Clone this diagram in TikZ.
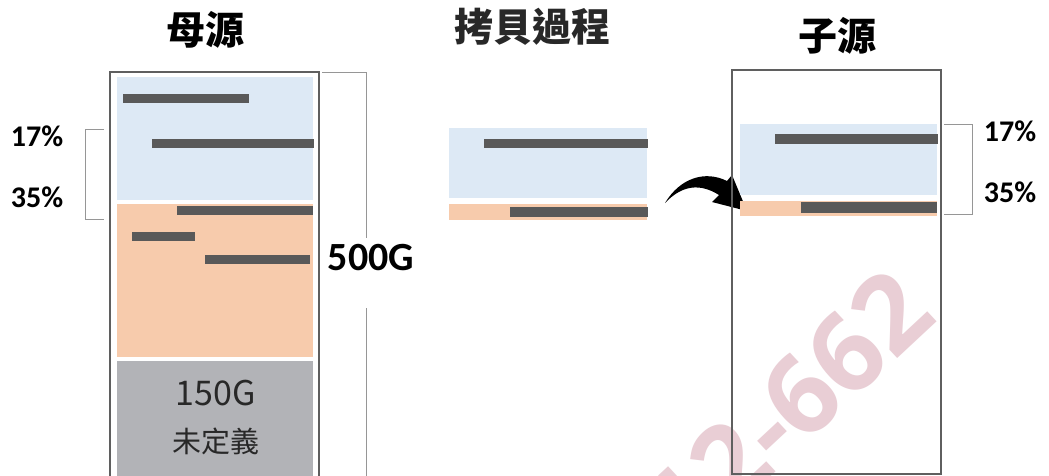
\documentclass[tikz,border=0pt]{standalone}
\usepackage{fontspec}
\setmainfont{Carlito}
\newfontfamily\cjk{Noto Sans CJK TC}
\newfontfamily\wmfont{Open Sans}
\definecolor{lblue}{RGB}{221,233,245}
\definecolor{lorange}{RGB}{247,203,172}
\definecolor{lgray}{RGB}{178,179,183}
\definecolor{barc}{RGB}{89,89,89}
\definecolor{wmc}{RGB}{233,206,213}
\definecolor{framec}{RGB}{95,95,95}
\definecolor{brk}{RGB}{150,150,150}
\definecolor{txtgray}{RGB}{40,40,40}
\begin{document}
\begin{tikzpicture}[x=1pt,y=-1pt,
  barbox/.style={fill=barc},
  frameline/.style={draw=framec,line width=1.2pt},
  bracketline/.style={draw=brk,line width=1pt},
  title/.style={font=\cjk\bfseries\fontsize{39}{43}\selectfont,inner sep=0pt},
  pct/.style={font=\bfseries\fontsize{30}{33}\selectfont,inner sep=0pt}]
\useasboundingbox (0,0) rectangle (1049,475);
\fill[white] (0,0) rectangle (1049,475);
% watermark
\begin{scope}
\clip (0,0) rectangle (1049,475);
\node[rotate=43,text=wmc,font=\wmfont\bfseries\fontsize{108}{112}\selectfont,inner sep=0pt] (wm) at (788,408) {12-662};
\end{scope}
% titles
\node[title] (t1) at (205,30) {母源};
\node[title,text=txtgray] (t2) at (532,27) {拷貝過程};
\node[title] (t3) at (837,36) {子源};
% left column
\fill[lblue] (117,77) rectangle (313,200);
\fill[lorange] (117,204) rectangle (313,357);
\fill[lgray] (117,361) rectangle (313,476);
\fill[barbox] (123,94) rectangle (249,103);
\fill[barbox] (152,139) rectangle (314,148);
\fill[barbox] (177,206) rectangle (313,215);
\fill[barbox] (132,232) rectangle (195,241);
\fill[barbox] (205,255) rectangle (310,264);
\draw[frameline] (110,477) -- (110,72) -- (319,72) -- (319,477);
\node[font=\cjk\fontsize{34}{38}\selectfont,text=txtgray,inner sep=0pt] (g150) at (216,393) {150G};
\node[font=\cjk\fontsize{29}{32}\selectfont,text=txtgray,inner sep=0pt] (undef) at (216,441) {未定義};
% 500G bracket
\draw[bracketline] (322,72) -- (366,72) -- (366,238);
\draw[bracketline] (366,308) -- (366,477);
\node[font=\bfseries\fontsize{40}{44}\selectfont,inner sep=0pt] (size) at (371,258) {500G};
% left bracket
\draw[bracketline] (104,129) -- (85,129) -- (85,219) -- (104,219);
\node[pct] (l17) at (37,136) {17\%};
\node[pct] (l35) at (37,197) {35\%};
% middle
\fill[lblue] (449,128) rectangle (647,198);
\fill[barbox] (484,139) rectangle (648,148);
\fill[lorange] (449,204) rectangle (647,220);
\fill[barbox] (510,207) rectangle (648,217);
% arrow
\fill[black] (665,203) .. controls (680,178) and (705,170) .. (727,181)
  -- (732,175) -- (747,211) -- (712,202) -- (719,195)
  .. controls (700,183) and (682,185) .. (665,203) -- cycle;
% right column
\fill[lblue] (740,124) rectangle (937,195);
\fill[barbox] (775,134) rectangle (938,144);
\fill[lorange] (740,201) rectangle (937,216);
\fill[barbox] (801,202) rectangle (937,213);
\draw[frameline] (732,70) rectangle (941,474);
\draw[bracketline] (944,124) -- (972,124) -- (972,214) -- (944,214);
\node[pct] (r17) at (1010,131) {17\%};
\node[pct] (r35) at (1010,192) {35\%};
\end{tikzpicture}
\end{document}
